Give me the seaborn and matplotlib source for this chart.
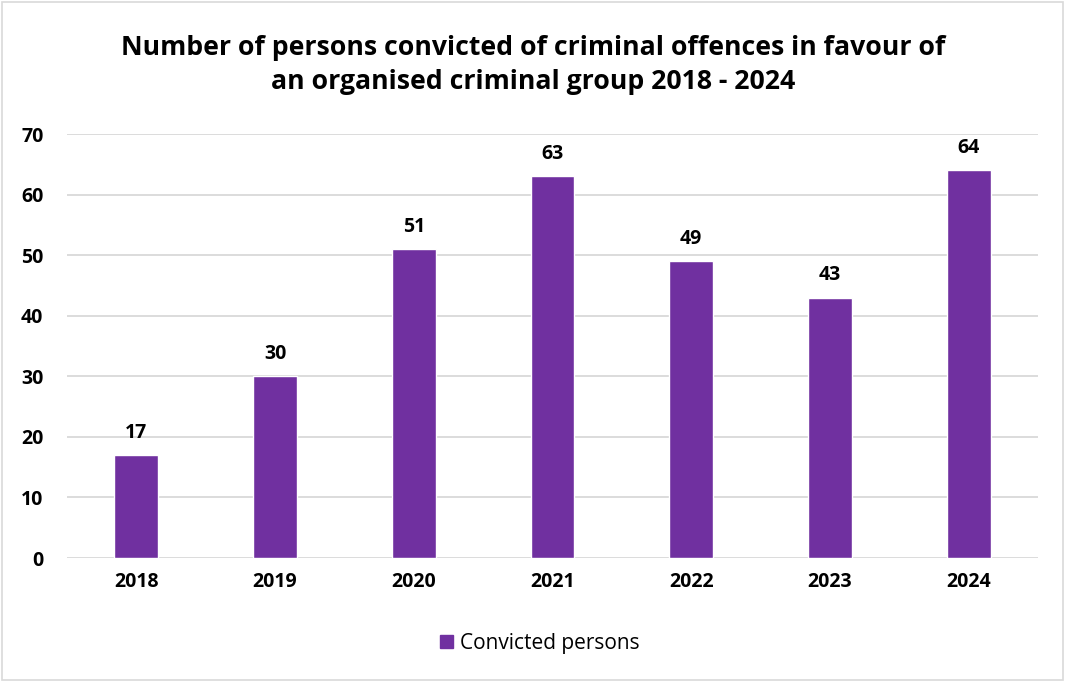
import matplotlib
matplotlib.use("Agg")
import matplotlib.pyplot as plt
import seaborn as sns
import pandas as pd
from matplotlib.patches import Rectangle, Patch

years = ["2018", "2019", "2020", "2021", "2022", "2023", "2024"]
convicted = [17, 30, 51, 63, 49, 43, 64]
series_name = "Convicted persons"
title = "Number of persons convicted of criminal offences in favour of\nan organised criminal group 2018 - 2024"

sns.set_theme(style="white")
plt.rcParams['font.family'] = ['Open Sans', 'DejaVu Sans']
plt.rcParams['text.color'] = 'black'

df = pd.DataFrame({"Year": years, "Value": convicted})
color = "#7030A0"

fig = plt.figure(figsize=(10.65, 6.82), dpi=100)
ax = fig.add_axes([67/1065, 1-558/682, (1038-67)/1065, (558-134)/682])

sns.barplot(data=df, x="Year", y="Value", color=color, width=0.317, ax=ax, saturation=1)

ax.set_ylim(0, 70)
ax.set_xlim(-0.5, 6.5)
ax.set_yticks(range(0, 71, 10))
ax.yaxis.grid(True, color="#D9D9D9", linewidth=1.3)
ax.set_axisbelow(True)
for s in ax.spines.values():
    s.set_visible(False)
ax.set_xlabel("")
ax.set_ylabel("")
ax.tick_params(axis="both", length=0, labelsize=14, labelcolor="black")
ax.tick_params(axis="y", pad=17)
ax.tick_params(axis="x", pad=10)
for lab in ax.get_xticklabels() + ax.get_yticklabels():
    lab.set_fontweight("bold")

for c in ax.containers:
    ax.bar_label(c, labels=[str(v) for v in convicted], padding=9, fontsize=14,
                 fontweight="bold", color="black")

fig.text(533/1065, 1-65/682, title, ha="center", va="center", fontsize=19.2,
         fontweight="bold", linespacing=1.38, color="black")

leg = fig.legend(handles=[Patch(color=color, label=series_name)], loc="center",
                 bbox_to_anchor=(540/1065, 1-643/682), frameon=False, fontsize=15,
                 handlelength=0.6, handleheight=0.6, handletextpad=0.35)
for t in leg.get_texts():
    t.set_color("black")

fig.patches.append(Rectangle((2/1065, 2/682), 1-4/1065, 1-4/682, transform=fig.transFigure,
                             fill=False, edgecolor="#D9D9D9", linewidth=1.2))

fig.savefig("out.png", dpi=100, facecolor="white")
